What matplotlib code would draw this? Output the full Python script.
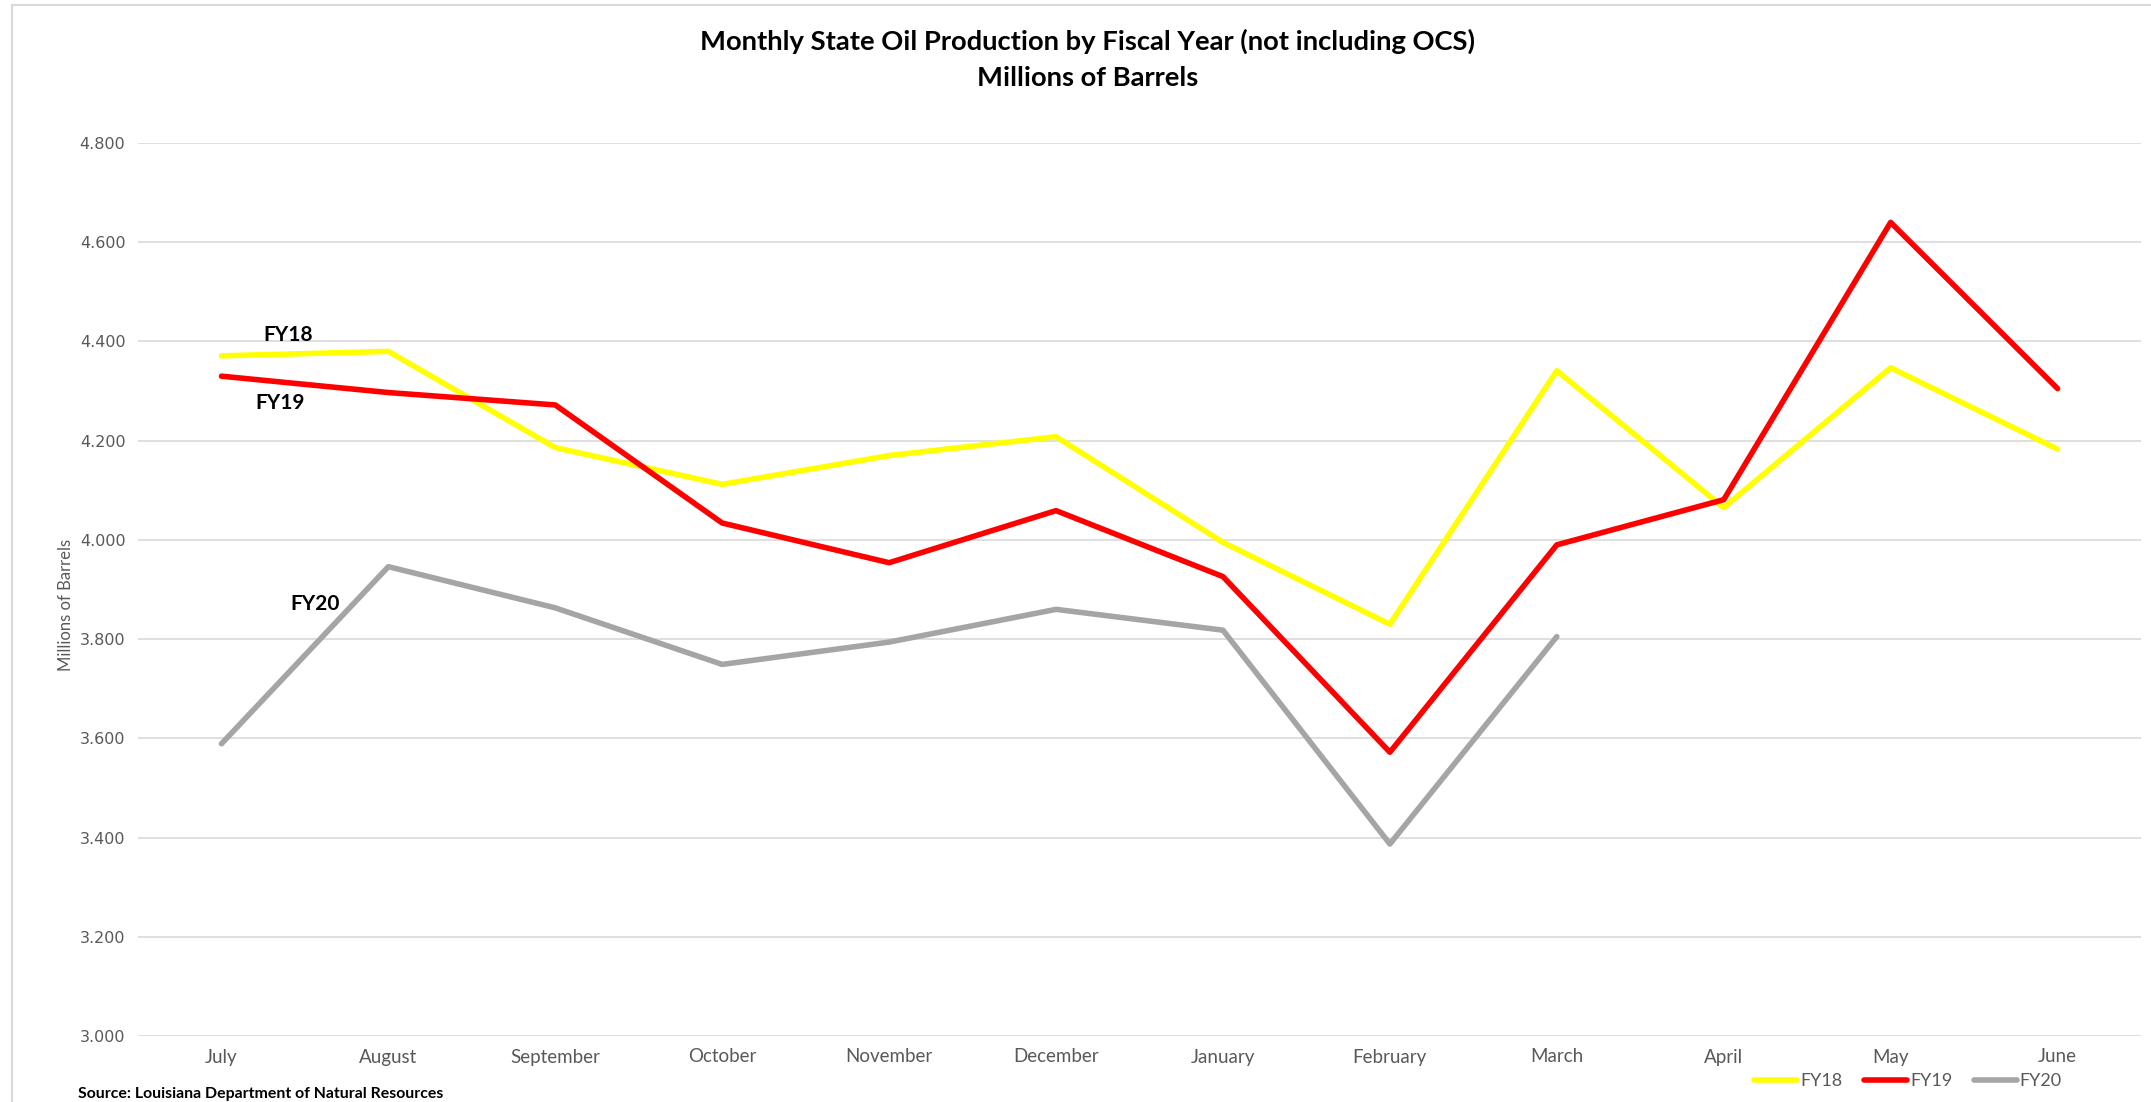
import matplotlib
matplotlib.use("Agg")
import matplotlib.pyplot as plt
from matplotlib.patches import Rectangle

months = ["July", "August", "September", "October", "November", "December",
          "January", "February", "March", "April", "May", "June"]
fy18 = [4.371, 4.380, 4.186, 4.112, 4.170, 4.208, 3.995, 3.830, 4.341, 4.065, 4.347, 4.183]
fy19 = [4.330, 4.297, 4.272, 4.034, 3.954, 4.059, 3.926, 3.572, 3.990, 4.081, 4.640, 4.305]
fy20 = [3.589, 3.946, 3.863, 3.749, 3.794, 3.860, 3.818, 3.387, 3.805]
yticks = [3.0, 3.2, 3.4, 3.6, 3.8, 4.0, 4.2, 4.4, 4.6, 4.8]
ytick_labels = ["3.000", "3.200", "3.400", "3.600", "3.800", "4.000", "4.200", "4.400", "4.600", "4.800"]

W, H = 2151, 1102
fig = plt.figure(figsize=(W / 100, H / 100), dpi=100)
ax = fig.add_axes([138 / W, 1 - 1036 / H, (2141 - 138) / W, (1036 - 143) / H])

x = list(range(len(months)))
lw = 4.0
ax.plot(x, fy18, color="#FFFF00", lw=lw, label="FY18", solid_capstyle="round", solid_joinstyle="round")
ax.plot(x, fy19, color="#FF0000", lw=lw, label="FY19", solid_capstyle="round", solid_joinstyle="round")
ax.plot(x[:len(fy20)], fy20, color="#A5A5A5", lw=lw, label="FY20", solid_capstyle="round", solid_joinstyle="round")

ax.set_xlim(-0.5, len(months) - 0.5)
ax.set_ylim(3.0, 4.8)
ax.set_yticks(yticks)
ax.set_yticklabels(ytick_labels, fontfamily="DejaVu Sans", fontsize=11.5, color="#595959")
ax.set_xticks(x)
ax.set_xticklabels(months, fontfamily="Lato", fontsize=13.5, color="#595959")
ax.tick_params(axis="both", length=0)
ax.tick_params(axis="x", pad=9)
ax.tick_params(axis="y", pad=9)
ax.grid(axis="y", color="#D9D9D9", lw=1.2)
ax.set_axisbelow(True)
for s in ax.spines.values():
    s.set_visible(False)

ax.set_ylabel("Millions of Barrels", fontfamily="Lato", fontsize=12, color="#595959")
ax.yaxis.set_label_coords(-0.032, 0.483)

# series labels
ax.text(0.40, 4.413, "FY18", fontfamily="Lato", fontweight="bold", fontsize=15, ha="center", va="center")
ax.text(0.354, 4.275, "FY19", fontfamily="Lato", fontweight="bold", fontsize=15, ha="center", va="center")
ax.text(0.56, 3.871, "FY20", fontfamily="Lato", fontweight="bold", fontsize=15, ha="center", va="center")

fig.text(1088 / W, 1 - 41 / H, "Monthly State Oil Production by Fiscal Year (not including OCS)",
         fontfamily="Lato", fontweight="bold", fontsize=19.7, ha="center", va="center")
fig.text(1088 / W, 1 - 78 / H, "Millions of Barrels",
         fontfamily="Lato", fontweight="bold", fontsize=19.7, ha="center", va="center")

fig.text(78 / W, 1 - 1094 / H, "Source: Louisiana Department of Natural Resources",
         fontfamily="Lato", fontweight="bold", fontsize=11.4, ha="left", va="center")

leg = fig.legend(loc="center", bbox_to_anchor=(1908 / W, 1 - 1081 / H), ncol=3, frameon=False,
                 prop={"family": "Lato", "size": 13}, handlelength=2.4, handletextpad=0.15,
                 columnspacing=1.2, labelcolor="#595959")

fig.patches.append(Rectangle((12 / W, -0.05), 1.1, 1 - 5 / H + 0.05, transform=fig.transFigure,
                             fill=False, edgecolor="#D9D9D9", lw=1.5))

fig.savefig("out.png", dpi=100, facecolor="white")
